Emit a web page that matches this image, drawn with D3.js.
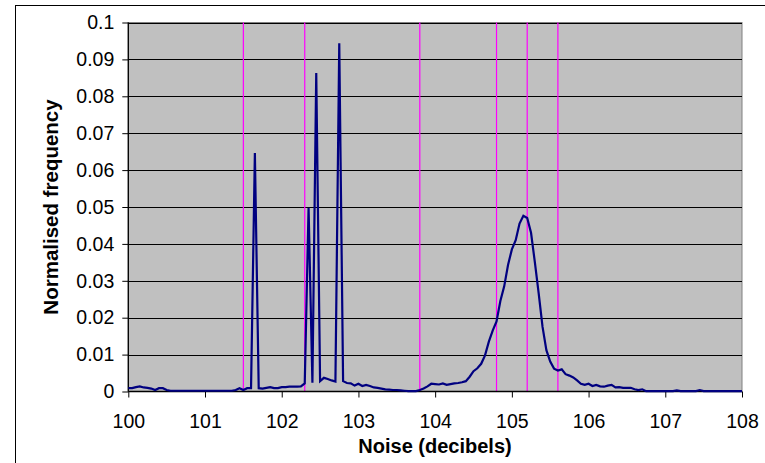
<!DOCTYPE html>
<html>
<head>
<meta charset="utf-8">
<script src="https://cdn.jsdelivr.net/npm/d3@7"></script>
<style>
  body { margin: 0; background: #fff; }
  text { font-family: "Liberation Sans", Arial, sans-serif; }
</style>
</head>
<body>
<div id="chart"></div>
<script>
// chart data
var noise = [
  100.00, 100.05, 100.10, 100.15, 100.20, 100.25, 100.30, 100.35, 100.40, 100.45,
  100.50, 100.55, 100.60, 100.65, 100.70, 100.75, 100.80, 100.85, 100.90, 100.95,
  101.00, 101.05, 101.10, 101.15, 101.20, 101.25, 101.30, 101.35, 101.40, 101.45,
  101.50, 101.55, 101.60, 101.65, 101.70, 101.75, 101.80, 101.85, 101.90, 101.95,
  102.00, 102.05, 102.10, 102.15, 102.20, 102.25, 102.30, 102.35, 102.40, 102.45,
  102.50, 102.55, 102.60, 102.65, 102.70, 102.75, 102.80, 102.85, 102.90, 102.95,
  103.00, 103.05, 103.10, 103.15, 103.20, 103.25, 103.30, 103.35, 103.40, 103.45,
  103.50, 103.55, 103.60, 103.65, 103.70, 103.75, 103.80, 103.85, 103.90, 103.95,
  104.00, 104.05, 104.10, 104.15, 104.20, 104.25, 104.30, 104.35, 104.40, 104.45,
  104.50, 104.55, 104.60, 104.65, 104.70, 104.75, 104.80, 104.85, 104.90, 104.95,
  105.00, 105.05, 105.10, 105.15, 105.20, 105.25, 105.30, 105.35, 105.40, 105.45,
  105.50, 105.55, 105.60, 105.65, 105.70, 105.75, 105.80, 105.85, 105.90, 105.95,
  106.00, 106.05, 106.10, 106.15, 106.20, 106.25, 106.30, 106.35, 106.40, 106.45,
  106.50, 106.55, 106.60, 106.65, 106.70, 106.75, 106.80, 106.85, 106.90, 106.95,
  107.00, 107.05, 107.10, 107.15, 107.20, 107.25, 107.30, 107.35, 107.40, 107.45,
  107.50, 107.55, 107.60, 107.65, 107.70, 107.75, 107.80, 107.85, 107.90, 107.95,
  108.00
];

var frequency = [
  0.0009, 0.0009, 0.0012, 0.0014, 0.0011, 0.0010, 0.0008, 0.0004, 0.0009, 0.0009,
  0.0004, 0.0002, 0.0002, 0.0002, 0.0002, 0.0002, 0.0002, 0.0002, 0.0002, 0.0002,
  0.0002, 0.0002, 0.0002, 0.0002, 0.0002, 0.0002, 0.0002, 0.0002, 0.0004, 0.0009,
  0.0004, 0.0009, 0.0009, 0.0646, 0.0009, 0.0008, 0.0010, 0.0012, 0.0009, 0.0009,
  0.0012, 0.0012, 0.0013, 0.0013, 0.0013, 0.0014, 0.0022, 0.0498, 0.0024, 0.0863,
  0.0028, 0.0037, 0.0034, 0.0030, 0.0027, 0.0944, 0.0028, 0.0023, 0.0022, 0.0016,
  0.0021, 0.0015, 0.0018, 0.0015, 0.0011, 0.0010, 0.0008, 0.0006, 0.0005, 0.0004,
  0.0004, 0.0003, 0.0002, 0.0001, 0.0001, 0.0001, 0.0004, 0.0008, 0.0014, 0.0021,
  0.0020, 0.0019, 0.0022, 0.0018, 0.0020, 0.0022, 0.0023, 0.0025, 0.0028, 0.0040,
  0.0055, 0.0063, 0.0075, 0.0098, 0.0135, 0.0165, 0.0190, 0.0245, 0.0285, 0.0343,
  0.0385, 0.0410, 0.0455, 0.0476, 0.0470, 0.0430, 0.0350, 0.0265, 0.0175, 0.0112,
  0.0081, 0.0062, 0.0057, 0.0060, 0.0047, 0.0043, 0.0038, 0.0030, 0.0021, 0.0018,
  0.0021, 0.0015, 0.0018, 0.0014, 0.0013, 0.0016, 0.0018, 0.0011, 0.0012, 0.0010,
  0.0010, 0.0010, 0.0006, 0.0004, 0.0006, 0.0001, 0.0001, 0.0001, 0.0001, 0.0001,
  0.0001, 0.0001, 0.0001, 0.0003, 0.0001, 0.0001, 0.0001, 0.0001, 0.0001, 0.0004,
  0.0001, 0.0001, 0.0001, 0.0001, 0.0001, 0.0001, 0.0001, 0.0001, 0.0001, 0.0001,
  0.0001
];

// vertical marker lines (magenta)
var markers = [101.5, 102.3, 103.8, 104.8, 105.2, 105.6];

var xTicks = [100, 101, 102, 103, 104, 105, 106, 107, 108];
var yTicks = [0, 0.01, 0.02, 0.03, 0.04, 0.05, 0.06, 0.07, 0.08, 0.09, 0.1];

// SVG dimensions
var svgWidth = 765;
var svgHeight = 463;

var margin = { top: 22.5, right: 23, bottom: 71.5, left: 128.3 };
var width = 742 - margin.left;
var height = 391.5 - margin.top;

var svg = d3.select("#chart")
  .append("svg")
  .attr("width", svgWidth)
  .attr("height", svgHeight);

// outer chart border (right and bottom fall outside the picture)
svg.append("rect")
  .attr("x", 15.5)
  .attr("y", 5.5)
  .attr("width", svgWidth)
  .attr("height", svgHeight)
  .attr("fill", "none")
  .attr("stroke", "#000")
  .attr("stroke-width", 1);

var chartGroup = svg.append("g")
  .attr("transform", `translate(${margin.left}, ${margin.top})`);

var xScale = d3.scaleLinear().domain([100, 108]).range([0, width]);
var yScale = d3.scaleLinear().domain([0, 0.1]).range([height, 0]);

// plot area
chartGroup.append("rect")
  .attr("width", width)
  .attr("height", height)
  .attr("fill", "#c0c0c0")
  .attr("stroke", "#808080")
  .attr("stroke-width", 1);

// gridlines
chartGroup.selectAll(".grid")
  .data(yTicks.slice(1))
  .enter()
  .append("line")
  .attr("x1", 0)
  .attr("x2", width)
  .attr("y1", d => Math.round(yScale(d) + margin.top) - margin.top + 0.5)
  .attr("y2", d => Math.round(yScale(d) + margin.top) - margin.top + 0.5)
  .attr("stroke", "#000")
  .attr("stroke-width", 1);

// marker lines
chartGroup.selectAll(".marker")
  .data(markers)
  .enter()
  .append("line")
  .attr("x1", d => xScale(d))
  .attr("x2", d => xScale(d))
  .attr("y1", 0)
  .attr("y2", height)
  .attr("stroke", "#ff00ff")
  .attr("stroke-width", 1.2);

// axes
var xAxis = d3.axisBottom(xScale).tickValues(xTicks).tickSize(6).tickPadding(17)
  .tickFormat(d3.format("d"));
var yAxis = d3.axisLeft(yScale).tickValues(yTicks).tickSize(6).tickPadding(8)
  .tickFormat(d => d === 0 ? "0" : d3.format(".2~f")(d));

var gx = chartGroup.append("g")
  .attr("transform", `translate(0, ${height})`)
  .call(xAxis);
var gy = chartGroup.append("g")
  .call(yAxis);

[gx, gy].forEach(function(g) {
  g.select(".domain").attr("stroke", "#000").attr("stroke-width", 1.3);
  g.selectAll(".tick line").attr("stroke", "#000");
  g.selectAll(".tick text")
    .attr("fill", "#000")
    .style("font-size", "19.5px")
    .style("font-family", "'Liberation Sans', Arial, sans-serif");
});
gy.select(".domain").attr("d", `M0,${height}V0`);
gx.select(".domain").attr("d", `M0,0H${width}`);

// the line
var line = d3.line()
  .x((d, i) => xScale(noise[i]))
  .y(d => yScale(d));

chartGroup.append("path")
  .datum(frequency)
  .attr("d", line)
  .attr("fill", "none")
  .attr("stroke", "#000080")
  .attr("stroke-width", 2.2)
  .attr("stroke-linejoin", "miter");

// axis titles
svg.append("text")
  .attr("x", 435)
  .attr("y", 452.5)
  .attr("text-anchor", "middle")
  .style("font-size", "20px")
  .style("font-weight", "bold")
  .text("Noise (decibels)");

svg.append("text")
  .attr("transform", `translate(58, ${margin.top + height / 2}) rotate(-90)`)
  .attr("text-anchor", "middle")
  .style("font-size", "20.5px")
  .style("font-weight", "bold")
  .text("Normalised frequency");
</script>
</body>
</html>
